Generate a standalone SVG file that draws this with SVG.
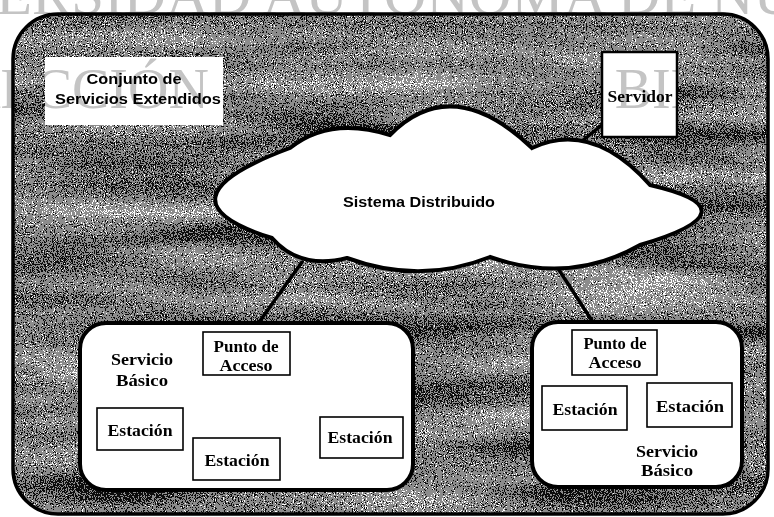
<svg xmlns="http://www.w3.org/2000/svg" width="774" height="517" viewBox="0 0 774 517">
<defs>
<style>
.tb{font-family:"Liberation Serif","Times New Roman",serif;font-weight:bold;font-size:17px;fill:#000;text-anchor:middle}
.ts{font-family:"Liberation Sans",Arial,sans-serif;font-weight:bold;font-size:15px;fill:#000;text-anchor:middle}
.box{fill:#fff;stroke:#000;stroke-width:1.6}
.grp{fill:#fff;stroke:#000;stroke-width:4}
.wm{font-family:"Liberation Serif","Times New Roman",serif;font-size:56px;fill:#c4c4c4;mix-blend-mode:multiply}
.conn{stroke:#000;stroke-width:3.5;fill:none;stroke-linecap:round}
</style>
<filter id="noise" x="0" y="0" width="100%" height="100%" color-interpolation-filters="sRGB">
<feTurbulence type="fractalNoise" baseFrequency="0.9" numOctaves="2" seed="4" result="fine"/>
<feTurbulence type="fractalNoise" baseFrequency="0.004 0.032" numOctaves="2" seed="9" result="band"/>
<feComposite in="fine" in2="band" operator="arithmetic" k1="0" k2="1.0" k3="0.45" k4="-0.05" result="sum"/>
<feColorMatrix in="sum" type="matrix" values="1 0 0 0 0  1 0 0 0 0  1 0 0 0 0  0 0 0 0 1" result="gray"/>
<feComponentTransfer in="gray">
<feFuncR type="discrete" tableValues="0.05 0.05 0.55 1 1"/>
<feFuncG type="discrete" tableValues="0.05 0.05 0.55 1 1"/>
<feFuncB type="discrete" tableValues="0.05 0.05 0.55 1 1"/>
</feComponentTransfer>
</filter>
<clipPath id="frameClip"><rect x="13" y="14" width="755" height="500" rx="45"/></clipPath>
<clipPath id="wmClip">
<rect x="0" y="60" width="14" height="60"/>
<rect x="45" y="57" width="178" height="68"/>
<rect x="602" y="52" width="75" height="85"/>
</clipPath>
</defs>
<rect width="774" height="517" fill="#fff"/>
<g id="frame">
<g clip-path="url(#frameClip)"><rect x="13" y="14" width="755" height="500" fill="#888" filter="url(#noise)"/></g>
<rect x="13" y="14" width="755" height="500" rx="45" fill="none" stroke="#000" stroke-width="3.5"/>
</g>
<g id="connectors">
<line class="conn" x1="602" y1="125" x2="562" y2="157"/>
<line class="conn" x1="302" y1="262" x2="252" y2="332"/>
<line class="conn" x1="548" y1="253" x2="598" y2="330"/>
</g>
<g id="conjunto">
<rect x="45" y="57" width="178" height="68" fill="#fff"/>
<text class="ts" x="134" y="84" textLength="95" lengthAdjust="spacingAndGlyphs">Conjunto de</text>
<text class="ts" x="138" y="104" textLength="166" lengthAdjust="spacingAndGlyphs">Servicios Extendidos</text>
</g>
<g id="servidor">
<rect x="602" y="52" width="75" height="85" fill="#fff" stroke="#000" stroke-width="2.5"/>
<text class="tb" x="640" y="102" textLength="65" lengthAdjust="spacingAndGlyphs">Servidor</text>
</g>
<g id="sistema">
<path class="grp" d="M290 148 Q330 116 390 135 Q452 72 532 148 Q592 120 650 185 Q758 210 640 245 Q570 285 490 257 Q420 285 347 258 Q300 270 272 238 Q150 200 290 148 Z"/>
<text class="ts" x="419" y="207" textLength="152" lengthAdjust="spacingAndGlyphs">Sistema Distribuido</text>
</g>
<g id="servicio1">
<rect class="grp" x="80" y="323" width="333" height="167" rx="26"/>
<text class="tb" x="142" y="365" textLength="62" lengthAdjust="spacingAndGlyphs">Servicio</text>
<text class="tb" x="142" y="386" textLength="52" lengthAdjust="spacingAndGlyphs">Básico</text>
</g>
<g id="punto1">
<rect class="box" x="203" y="332" width="87" height="43"/>
<text class="tb" x="246" y="352" textLength="65" lengthAdjust="spacingAndGlyphs">Punto de</text>
<text class="tb" x="246" y="371" textLength="53" lengthAdjust="spacingAndGlyphs">Acceso</text>
</g>
<g id="estacion1">
<rect class="box" x="97" y="408" width="86" height="42"/>
<text class="tb" x="140" y="436" textLength="65" lengthAdjust="spacingAndGlyphs">Estación</text>
</g>
<g id="estacion2">
<rect class="box" x="193" y="438" width="87" height="42"/>
<text class="tb" x="237" y="466" textLength="65" lengthAdjust="spacingAndGlyphs">Estación</text>
</g>
<g id="estacion3">
<rect class="box" x="320" y="417" width="83" height="41"/>
<text class="tb" x="360" y="443" textLength="65" lengthAdjust="spacingAndGlyphs">Estación</text>
</g>
<g id="servicio2">
<rect class="grp" x="532" y="322" width="210" height="165" rx="26"/>
<text class="tb" x="667" y="457" textLength="62" lengthAdjust="spacingAndGlyphs">Servicio</text>
<text class="tb" x="667" y="476" textLength="52" lengthAdjust="spacingAndGlyphs">Básico</text>
</g>
<g id="punto2">
<rect class="box" x="572" y="330" width="85" height="45"/>
<text class="tb" x="615" y="349" textLength="63" lengthAdjust="spacingAndGlyphs">Punto de</text>
<text class="tb" x="615" y="368" textLength="53" lengthAdjust="spacingAndGlyphs">Acceso</text>
</g>
<g id="estacion4">
<rect class="box" x="542" y="386" width="85" height="44"/>
<text class="tb" x="585" y="415" textLength="65" lengthAdjust="spacingAndGlyphs">Estación</text>
</g>
<g id="estacion5">
<rect class="box" x="647" y="383" width="85" height="44"/>
<text class="tb" x="690" y="412" textLength="68" lengthAdjust="spacingAndGlyphs">Estación</text>
</g>
<g id="watermark">
<text class="wm" x="-4" y="14" textLength="800" lengthAdjust="spacingAndGlyphs">ERSIDAD AUTÓNOMA DE NU</text>
<text class="wm" x="-96" y="108" word-spacing="10" clip-path="url(#wmClip)">DIRECCIÓN GENERAL DE BIBLIOTECAS</text>
</g>
</svg>
